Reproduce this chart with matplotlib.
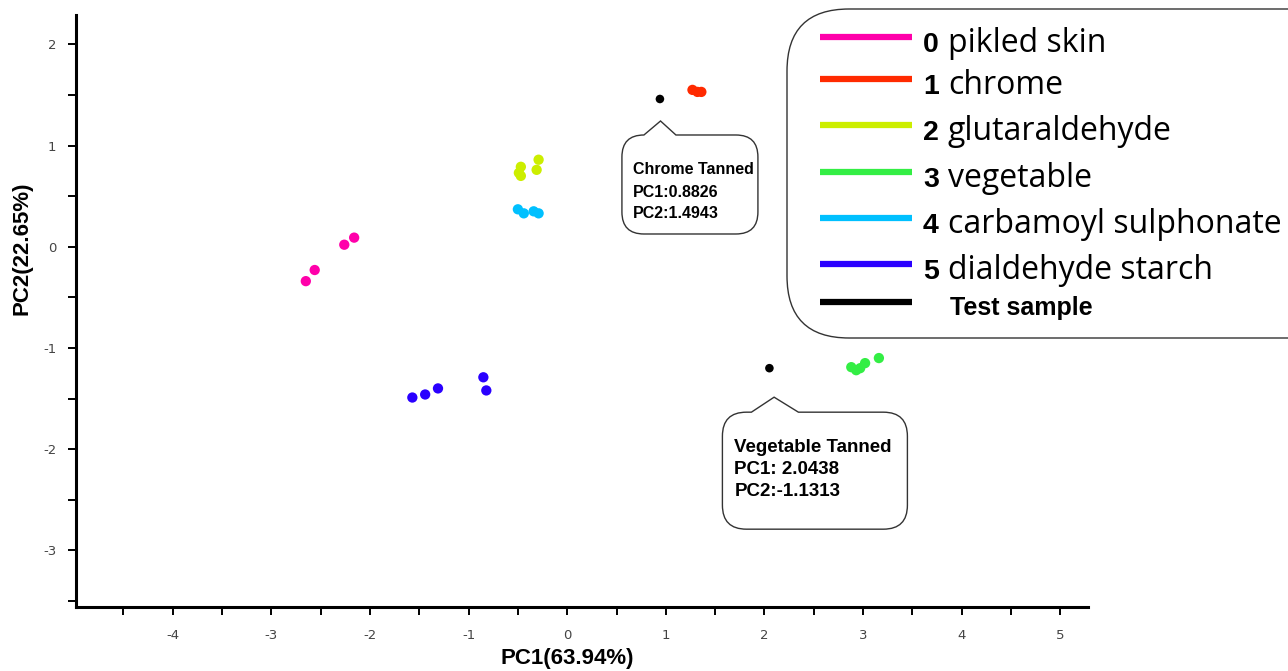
import matplotlib
matplotlib.use("Agg")
import matplotlib.pyplot as plt
from matplotlib.path import Path
from matplotlib.patches import PathPatch, FancyBboxPatch
from matplotlib.lines import Line2D
from matplotlib.transforms import ScaledTranslation
from matplotlib.ticker import MultipleLocator

plt.rcParams["axes.unicode_minus"] = False

# ---------------- data ----------------
group_ids = ["0", "1", "2", "3", "4", "5"]
group_names = ["pikled skin", "chrome", "glutaraldehyde", "vegetable",
               "carbamoyl sulphonate", "dialdehyde starch"]
group_colors = ["#ff00aa", "#ff2a00", "#ccee00", "#33ee44", "#00c0ff", "#2a00ff"]

pc1_pikled = [-2.26, -2.16, -2.56, -2.65]
pc2_pikled = [0.02, 0.09, -0.23, -0.34]
pc1_chrome = [1.27, 1.32, 1.36]
pc2_chrome = [1.55, 1.53, 1.53]
pc1_glut = [-0.47, -0.49, -0.47, -0.29, -0.31]
pc2_glut = [0.79, 0.73, 0.70, 0.86, 0.76]
pc1_veg = [2.88, 2.93, 2.97, 3.02, 3.16, 2.99]
pc2_veg = [-1.19, -1.22, -1.20, -1.15, -1.10, -0.75]
pc1_carb = [-0.50, -0.44, -0.34, -0.29]
pc2_carb = [0.37, 0.33, 0.35, 0.33]
pc1_dial = [-1.57, -1.44, -1.31, -0.85, -0.82]
pc2_dial = [-1.49, -1.46, -1.40, -1.29, -1.42]

pc1_test = [0.94, 2.05]
pc2_test = [1.46, -1.20]
test_label = "Test sample"
callout_texts = [["Chrome Tanned", "PC1:0.8826", "PC2:1.4943"],
                 ["Vegetable Tanned", "PC1: 2.0438", "PC2:-1.1313"]]

xlabel = "PC1(63.94%)"
ylabel = "PC2(22.65%)"
xticks = [-4, -3, -2, -1, 0, 1, 2, 3, 4, 5]
yticks = [-3, -2, -1, 0, 1, 2]

series_x = [pc1_pikled, pc1_chrome, pc1_glut, pc1_veg, pc1_carb, pc1_dial]
series_y = [pc2_pikled, pc2_chrome, pc2_glut, pc2_veg, pc2_carb, pc2_dial]

# ---------------- figure ----------------
W, H, DPI = 1288, 671, 100
fig = plt.figure(figsize=(W / DPI, H / DPI), dpi=DPI)
ax = fig.add_axes([76 / W, 1 - 607 / H, (1088 - 76) / W, (607 - 15) / H])
ax.set_xlim(-4.98, 5.28)
ax.set_ylim(-3.56, 2.29)

for xs, ys, c in zip(series_x, series_y, group_colors):
    ax.scatter(xs, ys, s=55, color=c, edgecolors="none", zorder=3)
ax.scatter(pc1_test, pc2_test, s=38, color="black", edgecolors="none", zorder=3)

for s in ["top", "right"]:
    ax.spines[s].set_visible(False)
for s in ["left", "bottom"]:
    ax.spines[s].set_linewidth(2.2)
ax.set_xticks(xticks)
ax.set_yticks(yticks)
ax.xaxis.set_minor_locator(MultipleLocator(0.5))
ax.yaxis.set_minor_locator(MultipleLocator(0.5))
ax.tick_params(which="both", direction="out", length=6, width=1.4, color="black",
               labelsize=9.5, labelcolor="#444444")
ax.tick_params(axis="x", which="major", pad=10)
ax.tick_params(axis="y", which="major", pad=8)
ax.set_xlabel(xlabel, fontsize=16, fontweight="bold", family="Liberation Sans")
ax.set_ylabel(ylabel, fontsize=16, fontweight="bold", family="Liberation Sans")
ax.xaxis.set_label_coords((567 - 76) / (1088 - 76), -(648 - 607) / (607 - 15))
ax.yaxis.set_label_coords(-(76 - 33) / (1088 - 76), (607 - 248) / (607 - 15))


# ---------------- callouts ----------------
def callout(xd, yd, l, r, t, b, pl, pr, apx, apy, rad, texts, tx, tys, fs):
    # offsets in pixels relative to the data point (positive = downward)
    p = lambda x, y: (x / DPI, -y / DPI)
    rr = rad
    verts = [p(pl, t), p(apx, apy), p(pr, t), p(r - rr, t), p(r, t), p(r, t + rr),
             p(r, b - rr), p(r, b), p(r - rr, b), p(l + rr, b), p(l, b), p(l, b - rr),
             p(l, t + rr), p(l, t), p(l + rr, t), p(pl, t), p(pl, t)]
    codes = [Path.MOVETO, Path.LINETO, Path.LINETO, Path.LINETO, Path.CURVE3, Path.CURVE3,
             Path.LINETO, Path.CURVE3, Path.CURVE3, Path.LINETO, Path.CURVE3, Path.CURVE3,
             Path.LINETO, Path.CURVE3, Path.CURVE3, Path.LINETO, Path.CLOSEPOLY]
    tr = fig.dpi_scale_trans + ScaledTranslation(xd, yd, ax.transData)
    patch = PathPatch(Path(verts, codes), facecolor="white", edgecolor="#333333",
                      lw=1.0, transform=tr, clip_on=False, zorder=4)
    ax.add_patch(patch)
    for txt, ty in zip(texts, tys):
        ax.text(tx / DPI, -ty / DPI, txt, transform=tr, fontsize=fs, fontweight="bold",
                family="Liberation Sans", ha="left", va="baseline", zorder=5)


callout(pc1_test[0], pc2_test[0], -38, 98, 36, 135, -16, 16, 0.6, 22, 22,
        callout_texts[0], -27, [75, 98, 119], 11.5)
callout(pc1_test[1], pc2_test[1], -47, 138, 44, 161, -18, 29, 4.7, 29, 24,
        callout_texts[1], -35, [84, 106, 128], 13.5)

# ---------------- legend ----------------
box = FancyBboxPatch((787 / DPI, (H - 338) / DPI), (1400 - 787) / DPI, (338 - 9) / DPI,
                     boxstyle="round,pad=0,rounding_size=0.62",
                     transform=fig.dpi_scale_trans, facecolor="white",
                     edgecolor="#333333", lw=1.0, zorder=5)
fig.add_artist(box)
row_y = [37, 79, 125, 172, 218, 264, 302]
for i, yy in enumerate(row_y):
    col = group_colors[i] if i < len(group_colors) else "black"
    fig.add_artist(Line2D([820 / DPI, 912 / DPI], [(H - yy) / DPI] * 2,
                          transform=fig.dpi_scale_trans, color=col, lw=4.5,
                          solid_capstyle="butt", zorder=6))
    if i < len(group_ids):
        fig.text(923 / W, 1 - (yy + 15) / H, group_ids[i], fontsize=20.5, fontweight="bold",
                 family="Liberation Sans", ha="left", va="baseline", zorder=7)
        fig.text(948 / W, 1 - (yy + 15) / H, group_names[i], fontsize=23,
                 family="Open Sans", ha="left", va="baseline", zorder=7)
    else:
        fig.text(950 / W, 1 - (yy + 13) / H, test_label, fontsize=18, fontweight="bold",
                 family="Liberation Sans", ha="left", va="baseline", zorder=7)

fig.savefig("out.png", dpi=DPI)
